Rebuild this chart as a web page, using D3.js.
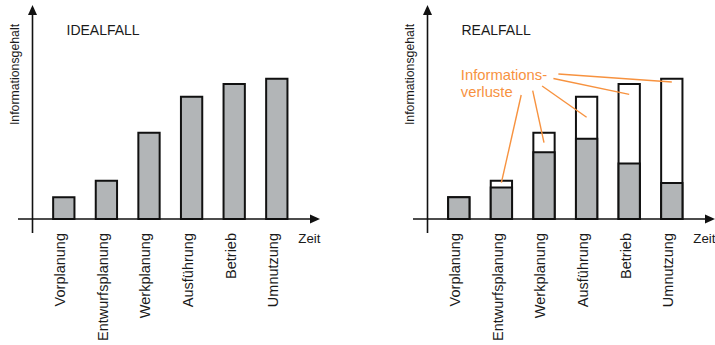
<!DOCTYPE html>
<html>
<head>
<meta charset="utf-8">
<script src="https://cdn.jsdelivr.net/npm/d3@7"></script>
<style>
  html, body { margin: 0; padding: 0; background: #fff; }
  svg { display: block; font-family: "Liberation Sans", Arial, sans-serif; }
</style>
</head>
<body>
<svg id="chart" width="715" height="345"></svg>
<script>
// ---- data ----
const categories = ["Vorplanung", "Entwurfsplanung", "Werkplanung", "Ausführung", "Betrieb", "Umnutzung"];
const idealValues = [14.5, 25.5, 57.5, 81.5, 90, 93.5];      // Informationsgehalt (ideal)
const realValues  = [14.5, 21, 44.5, 53.5, 37, 24];          // retained information (real)
const panelTitles = ["IDEALFALL", "REALFALL"];
const yAxisLabel = "Informationsgehalt";
const xAxisLabel = "Zeit";
const annotationLines = ["Informations-", "verluste"];
// leader line targets: category + value inside the loss part of the bar
const lossTargets = [
  { cat: "Entwurfsplanung", value: 24.2 },
  { cat: "Werkplanung", value: 50.9 },
  { cat: "Ausführung", value: 67.8 },
  { cat: "Betrieb", value: 83.1 },
  { cat: "Umnutzung", value: 91.3 }
];

// ---- styles ----
const gray = "#b2b5b7";
const orange = "#f7923f";
const svg = d3.select("#chart");

function drawPanel(axisX, withLosses, title) {
  const baseY = 219;
  const g = svg.append("g");

  const x = d3.scaleBand()
    .domain(categories)
    .range([axisX + 10, axisX + 10 + 6 * 42.6])
    .paddingInner(0.5)
    .paddingOuter(0.25);
  const y = d3.scaleLinear().domain([0, 100]).range([baseY, baseY - 150]);

  // bars: total (ideal) height
  g.selectAll("rect.total").data(categories).join("rect")
    .attr("class", "total")
    .attr("x", d => x(d))
    .attr("width", x.bandwidth())
    .attr("y", (d, i) => y(idealValues[i]))
    .attr("height", (d, i) => y(0) - y(idealValues[i]))
    .attr("fill", withLosses ? "#fff" : gray)
    .attr("stroke", "#111").attr("stroke-width", 2);

  if (withLosses) {
    g.selectAll("rect.kept").data(categories).join("rect")
      .attr("class", "kept")
      .attr("x", d => x(d))
      .attr("width", x.bandwidth())
      .attr("y", (d, i) => y(realValues[i]))
      .attr("height", (d, i) => y(0) - y(realValues[i]))
      .attr("fill", gray)
      .attr("stroke", "#111").attr("stroke-width", 2);
  }

  // axes
  const axisCol = "#111";
  g.append("line").attr("x1", axisX).attr("x2", axisX).attr("y1", 14).attr("y2", 233)
    .attr("stroke", axisCol).attr("stroke-width", 1.6);
  g.append("path").attr("d", `M${axisX},5 L${axisX - 4.5},15 L${axisX + 4.5},15 Z`).attr("fill", axisCol);
  const xEnd = axisX + 287.5;
  g.append("line").attr("x1", axisX - 14.5).attr("x2", xEnd - 8).attr("y1", baseY).attr("y2", baseY)
    .attr("stroke", axisCol).attr("stroke-width", 1.6);
  g.append("path").attr("d", `M${xEnd},${baseY} L${xEnd - 10},${baseY - 4.5} L${xEnd - 10},${baseY + 4.5} Z`).attr("fill", axisCol);

  // category labels
  g.selectAll("text.cat").data(categories).join("text")
    .attr("class", "cat")
    .attr("transform", d => `translate(${x(d) + x.bandwidth() / 2},233) rotate(-90)`)
    .attr("text-anchor", "end")
    .attr("dy", "0.1em")
    .attr("font-size", "14.5px")
    .attr("fill", "#1a1a1a")
    .text(d => d);

  // axis labels
  g.append("text")
    .attr("transform", `translate(${axisX - 14},74.5) rotate(-90)`)
    .attr("text-anchor", "middle")
    .attr("font-size", "12.3px").attr("fill", "#1a1a1a")
    .text(yAxisLabel);
  g.append("text")
    .attr("x", axisX + 265.8).attr("y", 243)
    .attr("font-size", "13.3px").attr("fill", "#1a1a1a")
    .text(xAxisLabel);

  // title
  g.append("text")
    .attr("x", axisX + 34).attr("y", 35)
    .attr("font-size", "14px").attr("fill", "#1a1a1a")
    .text(title);

  if (withLosses) {
    const ax = axisX + 33.3;
    g.selectAll("text.ann").data(annotationLines).join("text")
      .attr("class", "ann")
      .attr("x", ax)
      .attr("y", (d, i) => 80 + i * 16.8)
      .attr("font-size", "14.8px")
      .attr("fill", orange)
      .text(d => d);
    // leader line starting points relative to the annotation text
    const starts = [[60.4, 15], [71.9, 10.7], [81.3, 6], [92.6, -1.5], [97.6, -6]];
    g.selectAll("line.leader").data(lossTargets).join("line")
      .attr("class", "leader")
      .attr("x1", (d, i) => ax + starts[i][0])
      .attr("y1", (d, i) => 80 + starts[i][1])
      .attr("x2", d => x(d.cat) + x.bandwidth() / 2)
      .attr("y2", d => y(d.value))
      .attr("stroke", orange).attr("stroke-width", 1.4);
  }
}

drawPanel(32.5, false, panelTitles[0]);
drawPanel(427.5, true, panelTitles[1]);
</script>
</body>
</html>
